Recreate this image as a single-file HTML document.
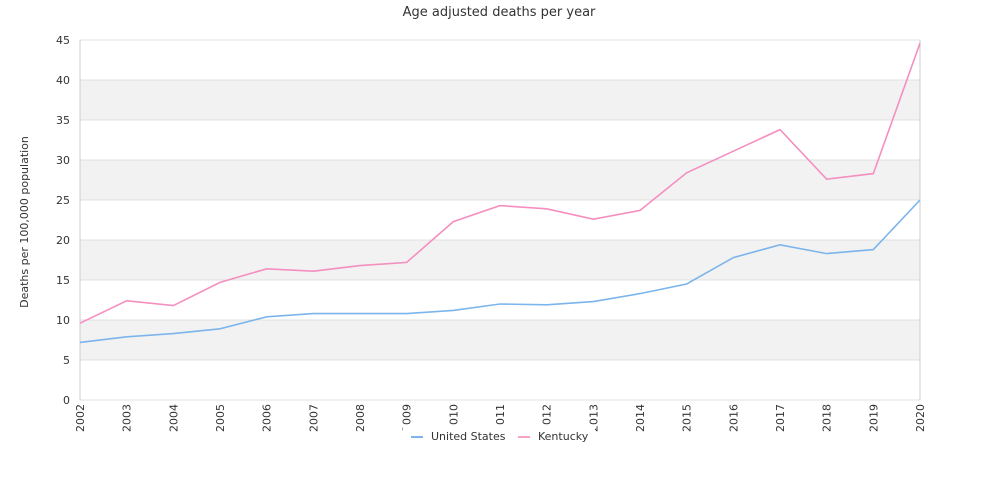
<!DOCTYPE html>
<html><head><meta charset="utf-8"><style>
body{margin:0;background:#fff;font-family:"DejaVu Sans","Liberation Sans",sans-serif;}
svg text{font-family:"DejaVu Sans","Liberation Sans",sans-serif;}
</style></head><body>
<svg id="c" width="1000" height="500">
<text x="499" y="16" text-anchor="middle" font-size="13" fill="#333">Age adjusted deaths per year</text>
<text transform="translate(28,222) rotate(-90)" text-anchor="middle" font-size="11" fill="#333">Deaths per 100,000 population</text>
<g id="grid"></g><g id="series"></g><g id="ticks"></g>
<g>
<rect x="403" y="426" width="192" height="18" fill="#fff"/>
<g><line x1="411" y1="437" x2="423" y2="437" stroke="#7cb5ec" stroke-width="2"/><text x="431" y="440" font-size="11" fill="#333">United States</text></g>
<g><line x1="518" y1="437" x2="530" y2="437" stroke="#f7a1c4" stroke-width="2"/><text x="538" y="440" font-size="11" fill="#333">Kentucky</text></g>
</g>
</svg>
<script>
const years=[2002,2003,2004,2005,2006,2007,2008,2009,2010,2011,2012,2013,2014,2015,2016,2017,2018,2019,2020];
const usValues=[7.2,7.9,8.3,8.9,10.4,10.8,10.8,10.8,11.2,12.0,11.9,12.3,13.3,14.5,17.8,19.4,18.3,18.8,25.0];
const kyValues=[9.6,12.4,11.8,14.7,16.4,16.1,16.8,17.2,22.3,24.3,23.9,22.6,23.7,28.4,31.1,33.8,27.6,28.3,44.6];
const yTicks=[0,5,10,15,20,25,30,35,40,45];
const NS="http://www.w3.org/2000/svg";
const L=80,R=920,T=40,B=400,yMax=45;
const xs=i=>L+i*(R-L)/(years.length-1);
const ys=v=>B-v/yMax*(B-T);
function mk(tag,attrs,parent){const e=document.createElementNS(NS,tag);for(const k in attrs)e.setAttribute(k,attrs[k]);parent.appendChild(e);return e;}
const grid=document.getElementById('grid'),ticks=document.getElementById('ticks'),ser=document.getElementById('series');
for(let i=0;i<yTicks.length-1;i++){
  if(i%2===1){const r=mk('rect',{x:L,y:ys(yTicks[i+1]),width:R-L,height:ys(yTicks[i])-ys(yTicks[i+1]),fill:'#f2f2f2'},grid);
  
  }
}
yTicks.forEach(v=>{
  const l=mk('line',{x1:L,x2:R,y1:ys(v),y2:ys(v),stroke:'#e0e0e0'},grid);
  
  
  const t=mk('text',{x:L-10,y:ys(v)+4,'text-anchor':'end','font-size':11,fill:'#333'},ticks);
  t.textContent=v;
  
  
});
mk('line',{x1:L,x2:L,y1:T,y2:B,stroke:'#ccc'},grid);
mk('line',{x1:R,x2:R,y1:T,y2:B,stroke:'#ccc'},grid);
years.forEach((y,i)=>{
  const t=mk('text',{transform:`translate(${xs(i)+4},${B+4}) rotate(-90)`,'text-anchor':'end','font-size':11,fill:'#333'},ticks);
  t.textContent=y;
  
  
});
function line(vals,color,name){
  const p=mk('polyline',{points:vals.map((v,i)=>xs(i)+','+ys(v)).join(' '),fill:'none',stroke:color,'stroke-width':1.6},ser);
  
  
}
line(usValues,'#7cb5ec','united-states-line');
line(kyValues,'#f48fbf','kentucky-line');
</script>
</body></html>
